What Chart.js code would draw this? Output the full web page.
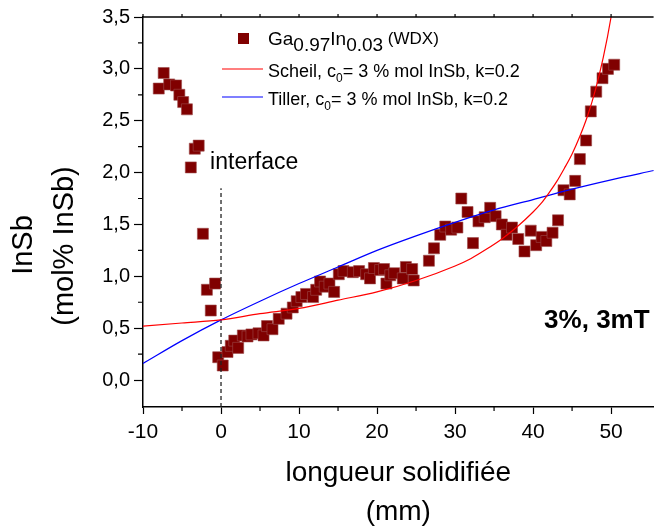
<!DOCTYPE html>
<html>
<head>
<meta charset="utf-8">
<script src="https://cdn.jsdelivr.net/npm/chart.js@4.4.0/dist/chart.umd.min.js"></script>
<style>
  html, body { margin: 0; padding: 0; background: #fff; }
</style>
</head>
<body>
<canvas id="insb-chart" width="662" height="526"></canvas>
<script>
const FONT = "'Liberation Sans', Arial, sans-serif";

// WDX measurements (mm, mol% InSb)
const wdxX = [-7.98, -7.35, -6.64, -5.76, -5.34, -4.85, -4.37, -3.87, -3.36, -2.86, -2.32, -1.81, -1.31, -0.76, -0.36, 0.22,
  0.83, 1.25, 1.7, 2.2, 2.8, 3.4, 3.9, 4.8, 5.45, 5.9, 6.6, 7.4, 8.4, 9.2, 9.7, 10.3, 10.9, 11.8, 12.2, 12.7, 13.3, 13.9,
  14.5, 15.1, 15.7, 16.9, 17.7, 18.6, 19.1, 19.6, 20.4, 20.9, 21.2, 21.7, 22.2, 23.3, 23.7, 24.5, 24.7, 26.65, 27.3, 28.1,
  28.75, 29.5, 30.3, 30.8, 31.6, 32.3, 33.0, 33.8, 34.5, 35.2, 36.0, 36.6, 37.3, 38.1, 38.9, 39.7, 40.4, 41.1, 41.7, 42.5,
  43.2, 43.9, 44.7, 45.4, 46.0, 46.8, 47.4, 48.1, 48.9, 49.6, 50.4];
const wdxY = [2.81, 2.96, 2.85, 2.84, 2.75, 2.68, 2.61, 2.05, 2.23, 2.26, 1.41, 0.87, 0.67, 0.93, 0.22, 0.14,
  0.27, 0.33, 0.38, 0.31, 0.43, 0.42, 0.44, 0.45, 0.43, 0.52, 0.49, 0.59, 0.64, 0.70, 0.76, 0.80, 0.83, 0.80, 0.87, 0.95, 0.90, 0.93,
  0.85, 1.02, 1.05, 1.04, 1.05, 1.02, 0.98, 1.08, 1.06, 1.07, 0.93, 1.01, 1.03, 0.98, 1.09, 1.07, 0.96, 1.15, 1.27, 1.40,
  1.48, 1.45, 1.47, 1.75, 1.62, 1.32, 1.53, 1.57, 1.66, 1.58, 1.50, 1.40, 1.47, 1.36, 1.24, 1.44, 1.30, 1.38, 1.34, 1.42,
  1.54, 1.83, 1.79, 1.92, 2.13, 2.31, 2.59, 2.78, 2.91, 3.00, 3.04];

// Scheil curve
const scheilX = [-10, -5, 0, 5, 10, 15, 20, 25, 30, 32, 34, 36, 38, 40, 41, 42, 43, 44, 45, 46, 47, 48, 49, 50, 50.6];
const scheilY = [0.52, 0.55, 0.58, 0.64, 0.69, 0.77, 0.85, 0.96, 1.10, 1.17, 1.26, 1.36, 1.48, 1.62, 1.70, 1.80, 1.91, 2.04, 2.18, 2.35, 2.55, 2.80, 3.11, 3.50, 3.80];

// Tiller curve
const tillerX = [-10, -5, 0, 5, 10, 15, 20, 25, 30, 35, 40, 45, 50, 55.5];
const tillerY = [0.16, 0.38, 0.58, 0.76, 0.93, 1.09, 1.25, 1.39, 1.52, 1.64, 1.74, 1.84, 1.93, 2.02];

// interface marker
const interfaceX = [0, 0];
const interfaceY = [-0.26, 1.85];

const xTicks = [-10, 0, 10, 20, 30, 40, 50];
const xMinor = [-5, 5, 15, 25, 35, 45];
const yTicks = [0, 0.5, 1, 1.5, 2, 2.5, 3, 3.5];
const yMinor = [0.25, 0.75, 1.25, 1.75, 2.25, 2.75, 3.25];

const pts = (xs, ys) => xs.map((x, i) => ({ x: x, y: ys[i] }));

// draw text runs with sub/superscripts
function drawRuns(ctx, x, y, runs) {
  runs.forEach(r => {
    ctx.font = (r.bold ? 'bold ' : '') + r.size + 'px ' + FONT;
    ctx.fillText(r.t, x, y + (r.dy || 0));
    x += ctx.measureText(r.t).width;
  });
}

const decor = {
  id: 'decor',
  afterDraw(chart) {
    const ctx = chart.ctx;
    const a = chart.chartArea;
    const xs = chart.scales.x, ys = chart.scales.y;
    ctx.save();
    ctx.strokeStyle = '#000';
    ctx.fillStyle = '#000';
    ctx.lineWidth = 1.5;

    // top frame line
    ctx.beginPath();
    ctx.moveTo(a.left, a.top);
    ctx.lineTo(a.right, a.top);
    ctx.stroke();

    // minor ticks
    ctx.lineWidth = 1.2;
    ctx.beginPath();
    xMinor.forEach(v => {
      const p = xs.getPixelForValue(v);
      ctx.moveTo(p, a.bottom);
      ctx.lineTo(p, a.bottom + 4);
    });
    xTicks.concat(xMinor).forEach(v => {
      const p = xs.getPixelForValue(v);
      ctx.moveTo(p, a.top);
      ctx.lineTo(p, a.top - 3);
    });
    yMinor.forEach(v => {
      const p = ys.getPixelForValue(v);
      ctx.moveTo(a.left, p);
      ctx.lineTo(a.left - 5, p);
    });
    ctx.stroke();

    // y axis title
    ctx.textAlign = 'center';
    ctx.textBaseline = 'middle';
    ctx.font = '29px ' + FONT;
    ctx.save();
    ctx.translate(24, 245);
    ctx.rotate(-Math.PI / 2);
    ctx.fillText('InSb', 0, 0);
    ctx.restore();
    ctx.save();
    ctx.translate(65, 246);
    ctx.rotate(-Math.PI / 2);
    ctx.fillText('(mol% InSb)', 0, 0);
    ctx.restore();

    // legend
    ctx.textAlign = 'left';
    ctx.textBaseline = 'alphabetic';
    ctx.fillStyle = '#800000';
    ctx.fillRect(238, 33, 11, 11);
    ctx.fillStyle = '#000';
    drawRuns(ctx, 268, 45, [
      { t: 'Ga', size: 19 }, { t: '0.97', size: 19, dy: 6 }, { t: 'In', size: 19 },
      { t: '0.03', size: 19, dy: 6 }, { t: ' (WDX)', size: 17, dy: -1 }
    ]);
    ctx.lineWidth = 1.2;
    ctx.strokeStyle = '#ff0000';
    ctx.beginPath(); ctx.moveTo(222, 69); ctx.lineTo(263, 69); ctx.stroke();
    drawRuns(ctx, 268, 77, [
      { t: 'Scheil, c', size: 18 }, { t: '0', size: 12, dy: 5 }, { t: '= 3 % mol InSb, k=0.2', size: 18 }
    ]);
    ctx.strokeStyle = '#0000ff';
    ctx.beginPath(); ctx.moveTo(222, 97); ctx.lineTo(263, 97); ctx.stroke();
    drawRuns(ctx, 268, 105, [
      { t: 'Tiller, c', size: 18 }, { t: '0', size: 12, dy: 5 }, { t: '= 3 % mol InSb, k=0.2', size: 18 }
    ]);

    // annotations
    ctx.font = '23px ' + FONT;
    ctx.fillText('interface', xs.getPixelForValue(-1.4), ys.getPixelForValue(2.03));
    ctx.textAlign = 'right';
    ctx.font = 'bold 26px ' + FONT;
    ctx.fillText('3%, 3mT', a.right - 4, ys.getPixelForValue(0.5));
    ctx.restore();
  }
};

new Chart(document.getElementById('insb-chart'), {
  type: 'scatter',
  data: {
    datasets: [
      {
        label: 'Scheil',
        data: pts(scheilX, scheilY),
        showLine: true,
        borderColor: '#ff0000',
        borderWidth: 1.2,
        pointRadius: 0,
        cubicInterpolationMode: 'monotone',
      },
      {
        label: 'Tiller',
        data: pts(tillerX, tillerY),
        showLine: true,
        borderColor: '#0000ff',
        borderWidth: 1.2,
        pointRadius: 0,
        cubicInterpolationMode: 'monotone',
      },
      {
        label: 'interface',
        data: pts(interfaceX, interfaceY),
        showLine: true,
        borderColor: '#222',
        borderWidth: 1.3,
        borderDash: [4, 3],
        pointRadius: 0,
      },
      {
        label: 'Ga0.97In0.03 (WDX)',
        data: pts(wdxX, wdxY),
        pointStyle: 'rect',
        pointRadius: 7.8,
        backgroundColor: '#800000',
        borderColor: '#9c4a4a',
        borderWidth: 0.6,
      },
    ],
  },
  options: {
    responsive: false,
    animation: false,
    devicePixelRatio: 1,
    layout: { padding: { top: 17, right: 0, left: 0, bottom: 0 } },
    plugins: {
      legend: { display: false },
      tooltip: { enabled: false },
    },
    scales: {
      x: {
        type: 'linear',
        min: -10,
        max: 55.45,
        afterBuildTicks: s => { s.ticks = xTicks.map(v => ({ value: v })); },
        afterFit: s => { s.height = 119; },
        grid: { drawOnChartArea: false, drawTicks: true, tickLength: 7, tickColor: '#000', tickWidth: 1.2 },
        border: { display: true, color: '#000', width: 1.5 },
        ticks: { color: '#000', padding: 6, maxRotation: 0, font: { family: FONT, size: 21 } },
        title: {
          display: true,
          text: ['longueur solidifiée', '(mm)'],
          color: '#000',
          font: { family: FONT, size: 28, lineHeight: 1.4 },
          padding: { top: 0, bottom: -6 },
        },
      },
      y: {
        type: 'linear',
        min: -0.26,
        max: 3.5,
        afterBuildTicks: s => { s.ticks = yTicks.map(v => ({ value: v })); },
        afterFit: s => { s.width = 143; },
        grid: { drawOnChartArea: false, drawTicks: true, tickLength: 9, tickColor: '#000', tickWidth: 1.2 },
        border: { display: true, color: '#000', width: 1.5 },
        ticks: {
          color: '#000',
          padding: 4,
          font: { family: FONT, size: 20 },
          callback: v => v.toFixed(1).replace('.', ','),
        },
      },
    },
  },
  plugins: [decor],
});
</script>
</body>
</html>
